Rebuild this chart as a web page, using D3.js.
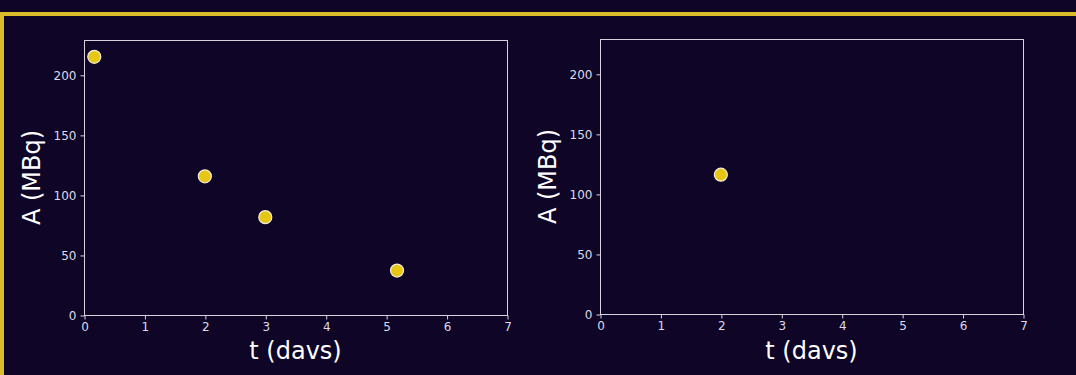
<!DOCTYPE html>
<html><head><meta charset="utf-8">
<script src="https://cdn.jsdelivr.net/npm/d3@7"></script>
<style>
html,body{margin:0;padding:0;background:#0e0527;overflow:hidden;}
svg{display:block;}
</style></head>
<body>
<svg id="c" width="1076" height="375"></svg>
<script>
// Data
const leftT = [0.17, 2, 3, 5.18];
const leftA = [215, 115.5, 81.5, 37];
const rightT = [2];
const rightA = [116];
const xTicks = [0, 1, 2, 3, 4, 5, 6, 7];
const yTicks = [0, 50, 100, 150, 200];
const xLabel = "t (davs)";
const yLabel = "A (MBq)";

const svg = d3.select("#c");
const W = 1076, H = 375;
svg.append("rect").attr("width", W).attr("height", H).attr("fill", "#0e0527");
// yellow frame
svg.append("rect").attr("x", 2).attr("y", 14).attr("width", W + 20).attr("height", H + 20)
  .attr("fill", "none").attr("stroke", "#dcbb2a").attr("stroke-width", 4);

const font = "DejaVu Sans, sans-serif";
const spineCol = "#d6d2de";
const tickCol = "#d6d2de";

function panel(x0, x1, y0, y1, ts, as) {
  const x = d3.scaleLinear().domain([0, 7]).range([x0, x1]);
  const y = d3.scaleLinear().domain([0, 229]).range([y1, y0]);
  const g = svg.append("g");
  g.append("rect").attr("x", x0 + 0.5).attr("y", y0 + 0.5).attr("width", x1 - x0).attr("height", y1 - y0)
    .attr("fill", "none").attr("stroke", spineCol).attr("stroke-width", 1);
  const xa = g.append("g").attr("transform", `translate(0.5,${y1 + 0.5})`)
    .call(d3.axisBottom(x).tickValues(xTicks).tickSize(4).tickPadding(3).tickFormat(d3.format("d")));
  const ya = g.append("g").attr("transform", `translate(${x0 + 0.5},0.5)`)
    .call(d3.axisLeft(y).tickValues(yTicks).tickSize(4).tickPadding(4).tickFormat(d3.format("d")));
  [xa, ya].forEach(a => {
    a.select(".domain").remove();
    a.selectAll("line").attr("stroke", tickCol);
    a.selectAll("text").attr("fill", "#dedae6").style("font-family", font).style("font-size", "12px");
  });
  g.append("text").attr("x", (x0 + x1) / 2).attr("y", 359).attr("text-anchor", "middle")
    .attr("fill", "#ffffff").style("font-family", font).style("font-size", "24px").text(xLabel);
  g.append("text").attr("transform", `translate(${x0 - 44},${(y0 + y1) / 2}) rotate(-90)`)
    .attr("text-anchor", "middle").attr("fill", "#ffffff").style("font-family", font).style("font-size", "24px").text(yLabel);
  g.selectAll("circle.pt").data(ts.map((t, i) => [t, as[i]])).enter().append("circle")
    .attr("class", "pt").attr("cx", d => x(d[0])).attr("cy", d => y(d[1])).attr("r", 6.5)
    .attr("fill", "#e8c614").attr("stroke", "#f4eedc").attr("stroke-width", 1.2);
}
panel(84, 507, 40, 315, leftT, leftA);
panel(600, 1023, 39, 314, rightT, rightA);
</script>
</body></html>
